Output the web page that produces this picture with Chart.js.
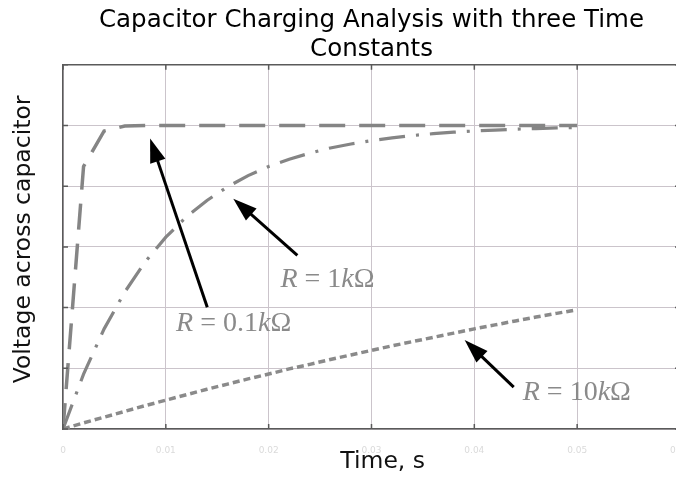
<!DOCTYPE html>
<html><head><meta charset="utf-8">
<script src="https://cdn.jsdelivr.net/npm/chart.js@4.4.0/dist/chart.umd.min.js"></script>
<style>
html,body{margin:0;padding:0;background:#fff;overflow:hidden;}
#wrap{position:relative;width:706px;height:482px;}
</style></head><body>
<div id="wrap"><canvas id="c"></canvas></div>
<script>
// ---- data ----
const titleLines = ['Capacitor Charging Analysis with three Time', 'Constants'];
const xAxisTitle = 'Time, s';
const yAxisTitle = 'Voltage across capacitor';
const timeS = [0, 0.002, 0.004, 0.006, 0.008, 0.010, 0.012, 0.014, 0.016, 0.018, 0.020, 0.022, 0.024,
               0.026, 0.028, 0.030, 0.032, 0.034, 0.036, 0.038, 0.040, 0.042, 0.044, 0.046, 0.048, 0.050];
const vR01k = [0, 0.865, 0.982, 0.998, 1.000, 1.000, 1.000, 1.000, 1.000, 1.000, 1.000, 1.000, 1.000,
               1.000, 1.000, 1.000, 1.000, 1.000, 1.000, 1.000, 1.000, 1.000, 1.000, 1.000, 1.000, 1.000];
const vR1k  = [0, 0.181, 0.330, 0.451, 0.551, 0.632, 0.699, 0.753, 0.798, 0.835, 0.865, 0.889, 0.909,
               0.926, 0.939, 0.950, 0.959, 0.967, 0.973, 0.978, 0.982, 0.985, 0.988, 0.990, 0.992, 0.993];
const vR10k = [0, 0.020, 0.039, 0.058, 0.077, 0.095, 0.113, 0.131, 0.148, 0.165, 0.181, 0.198, 0.213,
               0.229, 0.244, 0.259, 0.274, 0.288, 0.302, 0.316, 0.330, 0.343, 0.356, 0.369, 0.381, 0.393];
const seriesNames = ['R = 0.1kΩ', 'R = 1kΩ', 'R = 10kΩ'];
const xTicks = [0, 0.01, 0.02, 0.03, 0.04, 0.05, 0.06];
const yTicks = [0, 0.2, 0.4, 0.6, 0.8, 1.0, 1.2];

// annotation anchors (data units)
const notes = [
  {text: seriesNames[0], tail: [0.01403, 0.401], tip: [0.00847, 0.957], at: [0.0110, 0.322]},
  {text: seriesNames[1], tail: [0.02279, 0.572], tip: [0.01656, 0.759], at: [0.02114, 0.467]},
  {text: seriesNames[2], tail: [0.04383, 0.138], tip: [0.03906, 0.293], at: [0.04471, 0.095]}
];

const pts = v => timeS.map((t, i) => ({x: t, y: v[i]}));
const lineGray = '#858585';

const decor = {
  id: 'decor',
  afterDatasetsDraw(chart) {
    const {ctx, chartArea: a, scales: {x, y}} = chart;
    ctx.save();
    ctx.strokeStyle = '#5a5a5a';
    ctx.lineWidth = 1.5;
    ctx.beginPath();
    ctx.moveTo(a.left, a.top); ctx.lineTo(a.right, a.top); ctx.lineTo(a.right, a.bottom);
    ctx.stroke();
    ctx.beginPath();
    xTicks.forEach(v => {
      const px = x.getPixelForValue(v);
      ctx.moveTo(px, a.bottom); ctx.lineTo(px, a.bottom - 5);
      ctx.moveTo(px, a.top); ctx.lineTo(px, a.top + 5);
    });
    yTicks.forEach(v => {
      const py = y.getPixelForValue(v);
      ctx.moveTo(a.left, py); ctx.lineTo(a.left + 5, py);
      ctx.moveTo(a.right, py); ctx.lineTo(a.right - 5, py);
    });
    ctx.stroke();

    notes.forEach(n => {
      const x0 = x.getPixelForValue(n.tail[0]), y0 = y.getPixelForValue(n.tail[1]);
      const x1 = x.getPixelForValue(n.tip[0]), y1 = y.getPixelForValue(n.tip[1]);
      const ang = Math.atan2(y1 - y0, x1 - x0), L = 24, W = 8;
      const bx = x1 - L * Math.cos(ang), by = y1 - L * Math.sin(ang);
      ctx.strokeStyle = '#000'; ctx.fillStyle = '#000'; ctx.lineWidth = 3;
      ctx.beginPath(); ctx.moveTo(x0, y0); ctx.lineTo(bx + 2 * Math.cos(ang), by + 2 * Math.sin(ang)); ctx.stroke();
      ctx.beginPath();
      ctx.moveTo(x1, y1);
      ctx.lineTo(bx + W * Math.sin(ang), by - W * Math.cos(ang));
      ctx.lineTo(bx - W * Math.sin(ang), by + W * Math.cos(ang));
      ctx.closePath(); ctx.fill();

      // label: letters italic (math style), the rest upright
      let lx = x.getPixelForValue(n.at[0]);
      const ly = y.getPixelForValue(n.at[1]);
      ctx.fillStyle = '#8a8a8a';
      ctx.textBaseline = 'alphabetic';
      ctx.textAlign = 'left';
      const parts = n.text.match(/[A-Za-z]|[^A-Za-z]+/g);
      parts.forEach(p => {
        const it = /^[A-Za-z]$/.test(p);
        ctx.font = (it ? 'italic ' : '') + '28px "Liberation Serif", "DejaVu Serif", serif';
        ctx.fillText(p, lx, ly);
        lx += ctx.measureText(p).width;
      });
    });
    ctx.restore();
  }
};

new Chart(document.getElementById('c'), {
  type: 'line',
  data: {
    datasets: [
      {label: seriesNames[0], data: pts(vR01k), borderColor: lineGray, borderWidth: 3.5,
       borderDash: [26, 14], pointRadius: 0, tension: 0, fill: false},
      {label: seriesNames[1], data: pts(vR1k), borderColor: lineGray, borderWidth: 3.2,
       borderDash: [26, 11, 3, 11], pointRadius: 0, tension: 0, fill: false},
      {label: seriesNames[2], data: pts(vR10k), borderColor: '#8a8a8a', borderWidth: 3.5,
       borderDash: [7, 4], pointRadius: 0, tension: 0, fill: false}
    ]
  },
  options: {
    responsive: true,
    maintainAspectRatio: false,
    animation: false,
    devicePixelRatio: 1,
    layout: {padding: {left: 0, right: 21, top: 0, bottom: 0}},
    plugins: {
      legend: {display: false},
      tooltip: {enabled: false},
      title: {
        display: true, text: titleLines, fullSize: false, color: '#000',
        font: {family: 'DejaVu Sans', size: 24.5, weight: 'normal', lineHeight: 1.2},
        padding: {top: 6, bottom: 0}
      }
    },
    scales: {
      x: {
        type: 'linear', min: 0, max: 0.06,
        afterFit: s => { s.height = 53; },
        afterBuildTicks: s => { s.ticks = xTicks.map(v => ({value: v})); },
        ticks: {
          color: '#dadada', padding: 16, maxRotation: 0, autoSkip: false,
          font: {family: 'DejaVu Sans', size: 9},
          callback: v => (v === 0 ? '0' : v.toFixed(2))
        },
        grid: {color: '#cbc4cb', lineWidth: 1, drawTicks: false},
        border: {display: true, color: '#5a5a5a', width: 1.5},
        title: {
          display: true, text: '   ' + xAxisTitle, color: '#111',
          font: {family: 'DejaVu Sans', size: 23.5, weight: 'normal', lineHeight: 1.2},
          padding: {top: 0, bottom: 6}
        }
      },
      y: {
        type: 'linear', min: 0, max: 1.2,
        afterFit: s => { s.width = 63; },
        afterBuildTicks: s => { s.ticks = yTicks.map(v => ({value: v})); },
        ticks: {display: false},
        grid: {color: '#cbc4cb', lineWidth: 1, drawTicks: false},
        border: {display: true, color: '#5a5a5a', width: 1.5},
        title: {
          display: true, text: '  ' + yAxisTitle, color: '#111',
          font: {family: 'DejaVu Sans', size: 23.5, weight: 'normal', lineHeight: 1.2},
          padding: {top: 10, bottom: 0}
        }
      }
    }
  },
  plugins: [decor]
});
</script>
</body></html>
